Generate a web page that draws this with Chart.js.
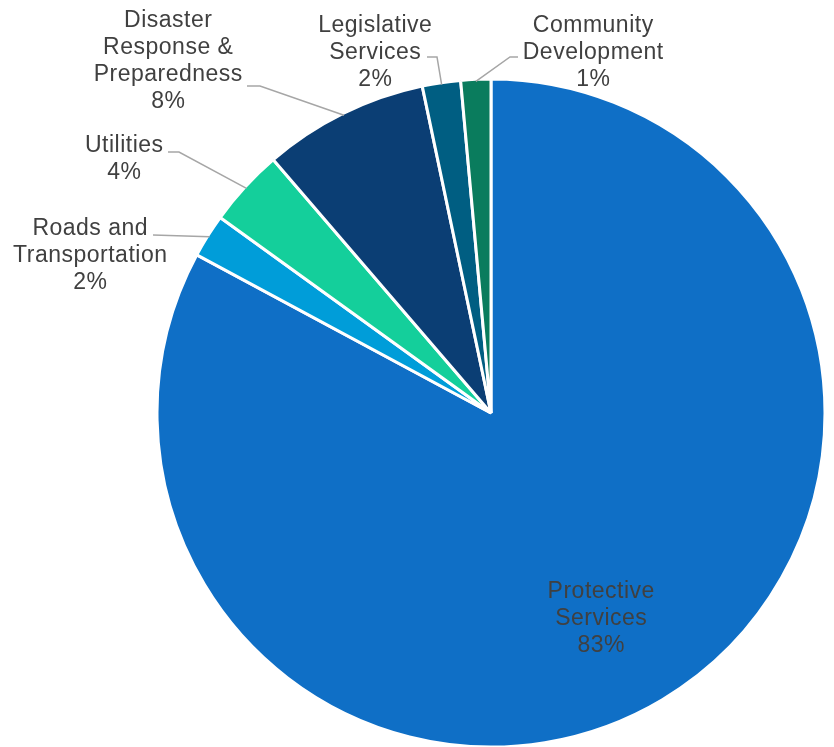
<!DOCTYPE html>
<html>
<head>
<meta charset="utf-8">
<script src="https://cdn.jsdelivr.net/npm/chart.js@4.4.1/dist/chart.umd.min.js"></script>
<style>
  html, body { margin: 0; padding: 0; background: #ffffff; }
  #wrap { width: 834px; height: 747px; }
</style>
</head>
<body>
<div id="wrap"><canvas id="pieChart" width="834" height="747"></canvas></div>
<script>
// Budget share by department (percent of total)
const categories = [
    'Protective Services',
    'Roads and Transportation',
    'Utilities',
    'Disaster Response & Preparedness',
    'Legislative Services',
    'Community Development'
];
const shares = [82.85, 2.1, 3.75, 8.0, 1.85, 1.45];
// How each category name is broken across lines in its label
const labelLines = [
    ['Protective', 'Services'],
    ['Roads and', 'Transportation'],
    ['Utilities'],
    ['Disaster', 'Response &', 'Preparedness'],
    ['Legislative', 'Services'],
    ['Community', 'Development']
];
const sliceColors = ['#0f6fc6', '#009dd9', '#14cf9b', '#0b3e74', '#005e82', '#0a7c5d'];

// Label placement, offsets from the pie centre (text centre x, first baseline y, leader points)
const labelPlacement = [
    { dx: 110, dy: 184.5, leader: null },
    { dx: -401, dy: -178, leader: [[-338, -178]] },
    { dx: -367, dy: -261, leader: [[-323, -261], [-312, -261]] },
    { dx: -323, dy: -386, leader: [[-244, -327], [-231, -327]] },
    { dx: -116, dy: -381.5, leader: [[-64, -356], [-54, -356]] },
    { dx: 102, dy: -381.5, leader: [[27, -356], [19, -356]] }
];

const total = shares.reduce((acc, val) => acc + val, 0);

// Draws the category labels and leader lines
const sliceLabels = {
    id: 'sliceLabels',
    afterDatasetsDraw(chart) {
        const ctx = chart.ctx;
        const arcs = chart.getDatasetMeta(0).data;
        ctx.save();
        ctx.font = '23px "Liberation Sans", Arial, sans-serif';
        ctx.letterSpacing = '0.5px';
        ctx.textAlign = 'center';
        ctx.textBaseline = 'alphabetic';
        arcs.forEach((arc, i) => {
            const p = labelPlacement[i];
            const cx = arc.x;
            const cy = arc.y;
            const mid = (arc.startAngle + arc.endAngle) / 2;
            if (p.leader) {
                const r = arc.outerRadius - 2;
                ctx.beginPath();
                ctx.moveTo(cx + p.leader[0][0], cy + p.leader[0][1]);
                p.leader.slice(1).forEach(pt => ctx.lineTo(cx + pt[0], cy + pt[1]));
                ctx.lineTo(cx + Math.cos(mid) * r, cy + Math.sin(mid) * r);
                ctx.strokeStyle = '#a6a6a6';
                ctx.lineWidth = 1.5;
                ctx.stroke();
            }
            const pct = Math.round(shares[i] / total * 100) + '%';
            const lines = labelLines[i].concat(pct);
            ctx.fillStyle = '#404040';
            lines.forEach((t, k) => ctx.fillText(t, cx + p.dx + 0.25, cy + p.dy + k * 27));
        });
        ctx.restore();
    }
};

const ctxPie = document.getElementById('pieChart').getContext('2d');
new Chart(ctxPie, {
    type: 'pie',
    data: {
        labels: categories,
        datasets: [{
            data: shares,
            backgroundColor: sliceColors,
            borderColor: '#ffffff',
            borderWidth: 3
        }]
    },
    options: {
        responsive: false,
        animation: false,
        radius: 334,
        layout: { padding: { left: 148, right: 0, top: 79, bottom: 0 } },
        plugins: {
            legend: { display: false },
            tooltip: { enabled: false }
        }
    },
    plugins: [sliceLabels]
});
</script>
</body>
</html>
